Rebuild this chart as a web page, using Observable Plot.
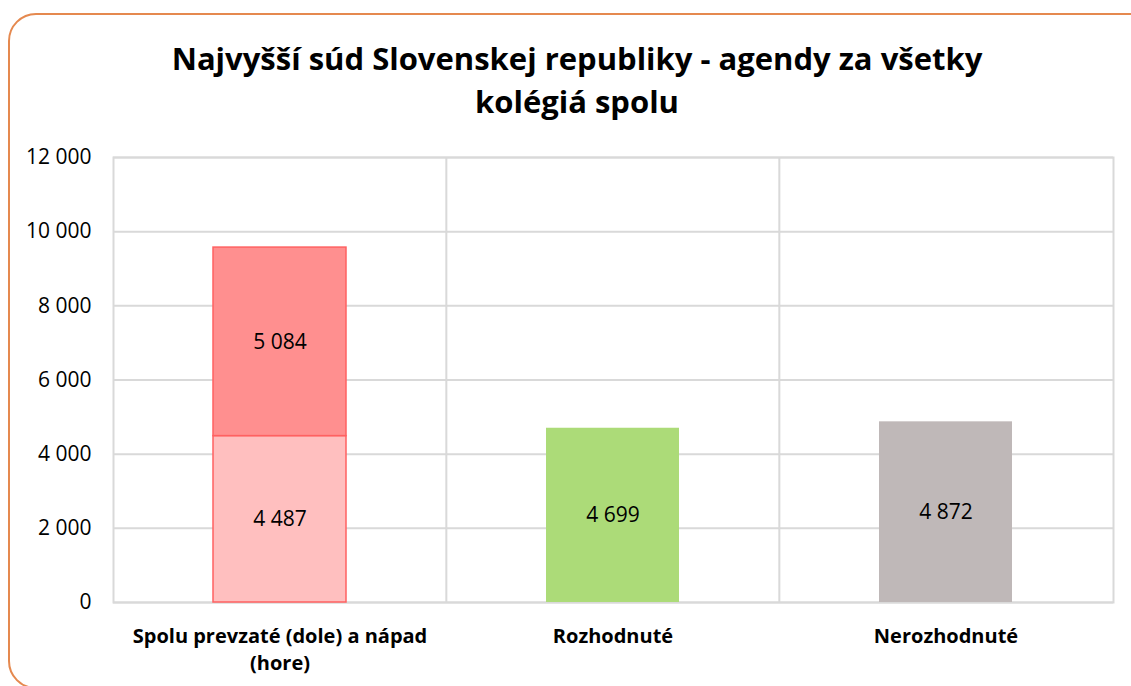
<!DOCTYPE html>
<html>
<head>
<meta charset="utf-8">
<script src="https://cdn.jsdelivr.net/npm/d3@7"></script>
<script src="https://cdn.jsdelivr.net/npm/@observablehq/plot@0.6"></script>
<style>
  html, body { margin: 0; padding: 0; background: #fff; overflow: hidden; }
  #wrap { position: relative; width: 1131px; height: 686px; overflow: hidden; font-family: "Open Sans", Lato, sans-serif; }
  #border { position: absolute; left: 8px; top: 13px; width: 1150px; height: 676px; border: 2px solid #e5894f; border-radius: 28px; box-sizing: border-box; }
  #title { position: absolute; left: 0; top: 37px; width: 1154px; text-align: center; font-weight: bold; font-size: 31px; line-height: 43px; color: #000; }
  #chart { position: absolute; left: 0; top: 140px; }
</style>
</head>
<body>
<div id="wrap">
  <div id="border"></div>
  <div id="title">Najvyšší súd Slovenskej republiky - agendy za všetky<br>kolégiá spolu</div>
  <div id="chart"></div>
</div>
<script>
const categories = ["Spolu prevzaté (dole) a nápad (hore)", "Rozhodnuté", "Nerozhodnuté"];
const segmentCategory = ["Spolu prevzaté (dole) a nápad (hore)", "Spolu prevzaté (dole) a nápad (hore)", "Rozhodnuté", "Nerozhodnuté"];
const segmentName = ["Spolu prevzaté", "Nápad", "Rozhodnuté", "Nerozhodnuté"];
const segmentValue = [4487, 5084, 4699, 4872];
const segmentFill = ["#ffbfbf", "#ff8f8f", "#acdb78", "#bfb8b8"];
const segmentStroke = ["#ff6161", "#ff6161", "none", "none"];
const yTicks = [0, 2000, 4000, 6000, 8000, 10000, 12000];

const data = segmentName.map((s, i) => ({
  cat: segmentCategory[i], name: s, value: segmentValue[i], order: i
}));

const loc = d3.formatLocale({decimal: ",", thousands: "\u00a0", grouping: [3], currency: ["", ""]});
const fmt = loc.format(",d");

const W = 1131, H = 546;
const mL = 113, mR = 18, mT = 17, mB = 84;
const step = (W - mL - mR) / categories.length;

const plot = Plot.plot({
  width: W,
  height: H,
  marginLeft: mL,
  marginRight: mR,
  marginTop: mT,
  marginBottom: mB,
  style: {fontFamily: "'Open Sans', Lato, sans-serif", fontSize: "18px", color: "#000", background: "transparent"},
  x: {domain: categories, paddingInner: 0.6, paddingOuter: 0.3, label: null},
  y: {domain: [0, 12000], ticks: yTicks, label: null},
  marks: [
    Plot.gridY(yTicks, {stroke: "#d9d9d9", strokeOpacity: 1, strokeWidth: 2}),
    Plot.ruleX(categories.slice(1), {dx: -step / 2, stroke: "#d9d9d9", strokeWidth: 2}),
    Plot.frame({stroke: "#d9d9d9", strokeWidth: 2}),
    Plot.barY(data, Plot.stackY({
      x: "cat", y: "value", order: "order",
      fill: (d) => segmentFill[d.order],
      stroke: (d) => segmentStroke[d.order],
      strokeWidth: 1.5
    })),
    Plot.text(data, Plot.stackY({
      x: "cat", y: "value", order: "order",
      text: (d) => fmt(d.value),
      fill: "#000", fontSize: 21
    })),
    Plot.axisY({
      ticks: yTicks, tickSize: 0, tickPadding: 22,
      tickFormat: fmt, fontSize: 21
    }),
    Plot.axisX({
      tickSize: 0, tickPadding: 21, fontSize: 20, fontWeight: "bold",
      lineHeight: 1.35,
      tickFormat: (d) => d.replace(" (hore)", "\n(hore)")
    })
  ]
});
document.getElementById("chart").appendChild(plot);
</script>
</body>
</html>
